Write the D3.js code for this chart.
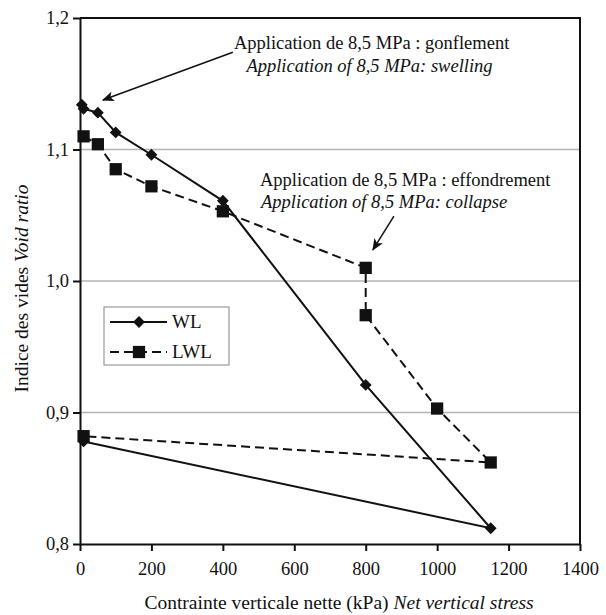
<!DOCTYPE html>
<html lang="en">
<head>
<meta charset="utf-8">
<title>Void ratio vs net vertical stress</title>
<script src="https://cdn.jsdelivr.net/npm/d3@7"></script>
<style>
  body { margin: 0; background: #fff; }
  text { font-family: "Liberation Serif", "Times New Roman", serif; fill: #111; }
</style>
</head>
<body>
<script>
// data
var wlStress = [5, 10, 50, 100, 200, 400, 800, 1150, 10];
var wlVoid   = [1.134, 1.131, 1.128, 1.113, 1.096, 1.061, 0.921, 0.812, 0.878];
var lwlStress = [10, 50, 100, 200, 400, 800, 800, 1000, 1150, 10];
var lwlVoid   = [1.110, 1.104, 1.085, 1.072, 1.053, 1.010, 0.974, 0.903, 0.862, 0.882];
var xTicks = [0, 200, 400, 600, 800, 1000, 1200, 1400];
var yTicks = [0.8, 0.9, 1.0, 1.1, 1.2];

var w = 606, h = 615;
// plot box (note: "top" is taken by window.top)
var pLeft = 80, pRight = 580, pTop = 18, pBottom = 544;

var svg = d3.select("body").append("svg")
  .attr("width", w)
  .attr("height", h);

var x = d3.scaleLinear().domain([0, 1400]).range([pLeft, pRight]);
var y = d3.scaleLinear().domain([0.8, 1.2]).range([pBottom, pTop]);

// grid lines
svg.append("g").selectAll("line")
  .data(yTicks.slice(1, -1))
  .enter().append("line")
  .attr("x1", pLeft).attr("x2", pRight)
  .attr("y1", function(d) { return y(d); })
  .attr("y2", function(d) { return y(d); })
  .attr("stroke", "#b4b4b4")
  .attr("stroke-width", 1.5);

// top and right frame
svg.append("path")
  .attr("d", "M" + pLeft + "," + pTop + "H" + pRight + "V" + pBottom)
  .attr("fill", "none")
  .attr("stroke", "#111")
  .attr("stroke-width", 2);

// axes
var fmt = function(d) { return d.toFixed(1).replace(".", ","); };
var yAxis = svg.append("g")
  .attr("transform", "translate(" + pLeft + ",0)")
  .call(d3.axisLeft(y).tickValues(yTicks).tickFormat(fmt).tickSize(7).tickSizeOuter(0).tickPadding(4));
var xAxis = svg.append("g")
  .attr("transform", "translate(0," + pBottom + ")")
  .call(d3.axisBottom(x).tickValues(xTicks).tickFormat(d3.format("d")).tickSize(7).tickSizeOuter(0).tickPadding(11));

[xAxis, yAxis].forEach(function(a) {
  a.selectAll("path, line").attr("stroke", "#111").attr("stroke-width", 2);
  a.selectAll("text").style("font-family", '"Liberation Serif", serif').style("font-size", "18.5px").attr("fill", "#111");
});

// axis titles
var xt = svg.append("text")
  .attr("x", 339).attr("y", 609)
  .attr("text-anchor", "middle")
  .style("font-size", "19.5px");
xt.append("tspan").text("Contrainte verticale nette (kPa) ");
xt.append("tspan").style("font-style", "italic").text("Net vertical stress");

var yt = svg.append("text")
  .attr("transform", "translate(28,288.5) rotate(-90)")
  .attr("text-anchor", "middle")
  .style("font-size", "19.5px");
yt.append("tspan").text("Indice des vides ");
yt.append("tspan").style("font-style", "italic").text("Void ratio");

// series
var line = d3.line()
  .x(function(d) { return x(d[0]); })
  .y(function(d) { return y(d[1]); });

var wl = d3.zip(wlStress, wlVoid);
var lwl = d3.zip(lwlStress, lwlVoid);

svg.append("path")
  .datum(lwl)
  .attr("d", line)
  .attr("fill", "none")
  .attr("stroke", "#111")
  .attr("stroke-width", 2)
  .attr("stroke-dasharray", "9,5");

svg.append("path")
  .datum(wl)
  .attr("d", line)
  .attr("fill", "none")
  .attr("stroke", "#111")
  .attr("stroke-width", 2);

var square = d3.symbol().type(d3.symbolSquare).size(150);
var diamond = d3.symbol().type(d3.symbolSquare).size(70);

svg.append("g").selectAll("path")
  .data(lwl)
  .enter().append("path")
  .attr("d", square)
  .attr("transform", function(d) { return "translate(" + x(d[0]) + "," + y(d[1]) + ")"; })
  .attr("fill", "#111");

svg.append("g").selectAll("path")
  .data(wl)
  .enter().append("path")
  .attr("d", diamond)
  .attr("transform", function(d) { return "translate(" + x(d[0]) + "," + y(d[1]) + ") rotate(45)"; })
  .attr("fill", "#111");

// annotations
svg.append("defs").append("marker")
  .attr("id", "head")
  .attr("viewBox", "0 0 12 10")
  .attr("refX", 11).attr("refY", 5)
  .attr("markerWidth", 12).attr("markerHeight", 10)
  .attr("markerUnits", "userSpaceOnUse")
  .attr("orient", "auto")
  .append("path")
  .attr("d", "M0,0 L12,5 L0,10 L3,5 z")
  .attr("fill", "#111");

var arrows = [
  { from: [428, 1.174], to: [64, 1.1376] },
  { from: [879, 1.0494], to: [820, 1.0236] }
];
svg.append("g").selectAll("line")
  .data(arrows)
  .enter().append("line")
  .attr("x1", function(d) { return x(d.from[0]); })
  .attr("y1", function(d) { return y(d.from[1]); })
  .attr("x2", function(d) { return x(d.to[0]); })
  .attr("y2", function(d) { return y(d.to[1]); })
  .attr("stroke", "#111")
  .attr("stroke-width", 1.5)
  .attr("marker-end", "url(#head)");

var notes = [
  { at: [431, 1.1763], text: "Application de 8,5 MPa : gonflement", italic: false },
  { at: [466, 1.1588], text: "Application of 8,5 MPa: swelling", italic: true },
  { at: [504, 1.0722], text: "Application de 8,5 MPa : effondrement", italic: false },
  { at: [507, 1.0555], text: "Application of 8,5 MPa: collapse", italic: true }
];
svg.append("g").selectAll("text")
  .data(notes)
  .enter().append("text")
  .attr("x", function(d) { return x(d.at[0]); })
  .attr("y", function(d) { return y(d.at[1]); })
  .style("font-size", "18.5px")
  .style("font-style", function(d) { return d.italic ? "italic" : "normal"; })
  .text(function(d) { return d.text; });

// legend
var legend = svg.append("g").attr("transform", "translate(104,307)");
legend.append("rect")
  .attr("width", 125).attr("height", 58)
  .attr("fill", "#fff")
  .attr("stroke", "#999")
  .attr("stroke-width", 1.2);

var items = [
  { name: "WL", dash: null, sym: diamond, rot: 45 },
  { name: "LWL", dash: "9,5", sym: square, rot: 0 }
];
items.forEach(function(it, i) {
  var yy = 15 + i * 30;
  legend.append("line")
    .attr("x1", 6).attr("x2", 63)
    .attr("y1", yy).attr("y2", yy)
    .attr("stroke", "#111")
    .attr("stroke-width", 2)
    .attr("stroke-dasharray", it.dash);
  legend.append("path")
    .attr("d", it.sym)
    .attr("transform", "translate(35," + yy + ") rotate(" + it.rot + ")")
    .attr("fill", "#111");
  legend.append("text")
    .attr("x", 68).attr("y", yy + 6)
    .style("font-size", "19px")
    .text(it.name);
});
</script>
</body>
</html>
